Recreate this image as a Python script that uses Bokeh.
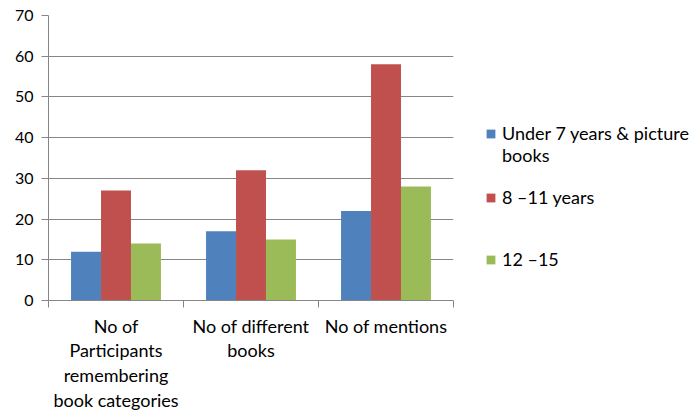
import numpy as np
from bokeh.plotting import figure
from bokeh.models import FixedTicker, Legend, LegendItem, Range1d
from bokeh.embed import file_html
from bokeh.resources import INLINE

categories = ["No of\nParticipants\nremembering\nbook categories",
              "No of different\nbooks",
              "No of mentions"]
series_names = ["Under 7 years & picture", "8 \u201311 years", "12 \u201315"]
series_name_cont = "books"
under7 = [12, 17, 22]
age8_11 = [27, 32, 58]
age12_15 = [14, 15, 28]
colors = ["#4F81BD", "#C0504D", "#9BBB59"]
y_ticks = [0, 10, 20, 30, 40, 50, 60, 70]

FONT = "Lato"
GRAY = "#868686"

p = figure(frame_width=405, frame_height=285, output_backend="svg", toolbar_location=None,
           x_range=Range1d(0, 3), y_range=Range1d(0, 70),
           min_border_left=48, min_border_right=244, min_border_top=15,
           min_border_bottom=110)
p.outline_line_color = None
p.xgrid.grid_line_color = None
p.ygrid.grid_line_color = GRAY
p.ygrid.grid_line_width = 1
p.ygrid.ticker = FixedTicker(ticks=y_ticks)

idx = np.arange(len(categories)) + 0.5
w = 0.222
renderers = []
for k, (vals, col) in enumerate(zip([under7, age8_11, age12_15], colors)):
    r = p.vbar(x=idx + (k - 1) * w, top=vals, width=w, bottom=0,
               fill_color=col, line_color=None)
    renderers.append(r)

# invisible renderer used for legend spacer rows
blank = p.vbar(x=[], top=[], width=w, fill_alpha=0, line_alpha=0)

# axes
p.yaxis.ticker = FixedTicker(ticks=y_ticks)
p.yaxis.axis_line_color = GRAY
p.yaxis.major_tick_line_color = GRAY
p.yaxis.major_tick_out = 7
p.yaxis.major_tick_in = 0
p.yaxis.minor_tick_line_color = None
p.yaxis.major_label_standoff = 8
p.yaxis.major_label_text_font = FONT
p.yaxis.major_label_text_font_size = "16px"
p.yaxis.major_label_text_color = "#000000"

p.xaxis.ticker = FixedTicker(ticks=list(idx), minor_ticks=[0, 1, 2, 3])
p.xaxis.major_label_overrides = {float(v): c for v, c in zip(idx, categories)}
p.xaxis.axis_line_color = GRAY
p.xaxis.major_tick_line_color = None
p.xaxis.major_tick_out = 0
p.xaxis.major_tick_in = 0
p.xaxis.minor_tick_line_color = GRAY
p.xaxis.minor_tick_out = 7
p.xaxis.minor_tick_in = 0
p.xaxis.major_label_standoff = 7
p.xaxis.major_label_text_font = FONT
p.xaxis.major_label_text_font_size = "18px"
p.xaxis.major_label_text_line_height = 1.13
p.xaxis.major_label_text_color = "#000000"

items = [
    LegendItem(label=series_names[0], renderers=[renderers[0]]),
    LegendItem(label=series_name_cont, renderers=[blank]),
    LegendItem(label=" ", renderers=[blank]),
    LegendItem(label=series_names[1], renderers=[renderers[1]]),
    LegendItem(label=" ", renderers=[blank]),
    LegendItem(label=" ", renderers=[blank]),
    LegendItem(label=series_names[2], renderers=[renderers[2]]),
]
legend = Legend(items=items,
                location=(32, 30), margin=0, padding=0, spacing=0,
                glyph_width=11, glyph_height=11, label_standoff=6,
                label_height=20,
                label_text_font=FONT, label_text_font_size="18px",
                label_text_color="#000000",
                background_fill_alpha=0, border_line_color=None)
p.add_layout(legend, "right")

open("out.html", "w").write(file_html(p, INLINE))
